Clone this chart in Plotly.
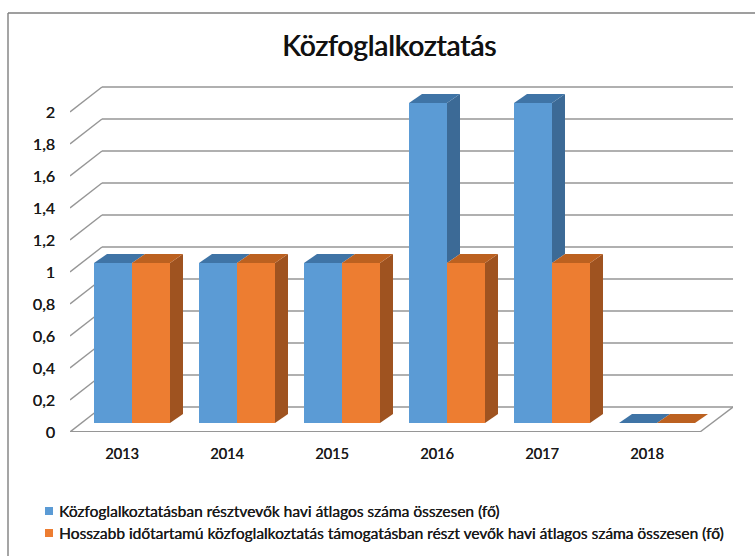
import plotly.graph_objects as go

# ---- data ----
years = ["2013", "2014", "2015", "2016", "2017", "2018"]
kozfog = [1, 1, 1, 2, 2, 0]
hosszabb = [1, 1, 1, 1, 1, 0]
y_ticks = [0, 0.2, 0.4, 0.6, 0.8, 1, 1.2, 1.4, 1.6, 1.8, 2]
y_labels = ["0", "0,2", "0,4", "0,6", "0,8", "1", "1,2", "1,4", "1,6", "1,8", "2"]
title_text = "Közfoglalkoztatás"
legend_names = [
    "Közfoglalkoztatásban résztvevők havi átlagos száma összesen (fő)",
    "Hosszabb időtartamú közfoglalkoztatás támogatásban részt vevők havi átlagos száma összesen (fő)",
]

# ---- layout geometry (pixels) ----
W, H = 755, 556
L, R, B = 70, 733, 432      # plot area
PX_PER_CAT = 105.0
PX_PER_VAL = 160.0
X0_PX = 122.0               # pixel of first category label
FONT = "Lato"
INK = "#1a1a1a"
SHADOW = "0.3px 0 0 #1a1a1a"
BLUE, ORANGE = "#5B9BD5", "#ED7D31"
BLUE_TOP, ORANGE_TOP = "#3F74A6", "#BC6120"
BLUE_SIDE, ORANGE_SIDE = "#3C6A96", "#9F5320"
GRID = "#969696"

dx_wall = 32 / PX_PER_CAT   # floor depth
dy_wall = 25 / PX_PER_VAL
dx_bar = 13 / PX_PER_CAT    # bar depth
dy_bar = 9 / PX_PER_VAL
base = 9 / PX_PER_VAL       # bars stand in the middle of the floor
bar_w = 38 / PX_PER_CAT
off_blue = -28 / PX_PER_CAT
off_orange = off_blue + bar_w

x_min = (L - X0_PX) / PX_PER_CAT
x_front_end = (700 - X0_PX) / PX_PER_CAT
x_max = (R - X0_PX) / PX_PER_CAT
xs = list(range(len(years)))


def px(x):
    return (x - L) / (R - L)


def py(y):
    return (B - y) / B


fig = go.Figure()

# front faces
fig.add_trace(go.Bar(x=xs, y=kozfog, base=base, width=bar_w, offset=off_blue,
                     marker=dict(color=BLUE, line_width=0), name=legend_names[0],
                     showlegend=False, hoverinfo="skip"))
fig.add_trace(go.Bar(x=xs, y=hosszabb, base=base, width=bar_w, offset=off_orange,
                     marker=dict(color=ORANGE, line_width=0), name=legend_names[1],
                     showlegend=False, hoverinfo="skip"))


def poly(xv, yv, color):
    fig.add_trace(go.Scatter(x=xv, y=yv, mode="lines", fill="toself", fillcolor=color,
                             line=dict(width=0, color=color), showlegend=False,
                             hoverinfo="skip"))


# depth faces
for i in xs:
    blue_l = i + off_blue
    mid = blue_l + bar_w
    right = mid + bar_w
    vb, vo = kozfog[i] + base, hosszabb[i] + base
    low = min(vb, vo)
    # side of blue, visible only above the orange column
    poly([mid, mid + dx_bar, mid + dx_bar, mid, mid],
         [vb, vb + dy_bar, low + dy_bar, low, vb], BLUE_SIDE)
    # top of blue
    poly([blue_l, blue_l + dx_bar, mid + dx_bar, mid, blue_l],
         [vb, vb + dy_bar, vb + dy_bar, vb, vb], BLUE_TOP)
    # side of orange
    poly([right, right + dx_bar, right + dx_bar, right, right],
         [vo, vo + dy_bar, base + dy_bar, base, vo], ORANGE_SIDE)
    # top of orange
    poly([mid, mid + dx_bar, right + dx_bar, right, mid],
         [vo, vo + dy_bar, vo + dy_bar, vo, vo], ORANGE_TOP)

# grid behind everything
shapes = []
line = dict(color=GRID, width=1.4)
for v in y_ticks:
    shapes.append(dict(type="line", xref="x", yref="y", layer="below", line=line,
                       x0=x_min, y0=v, x1=x_min + dx_wall, y1=v + dy_wall))
    shapes.append(dict(type="line", xref="x", yref="y", layer="below", line=line,
                       x0=x_min + dx_wall, y0=v + dy_wall, x1=x_max, y1=v + dy_wall))
shapes.append(dict(type="line", xref="x", yref="y", layer="below",
                   line=dict(color=GRID, width=2.2),
                   x0=x_min, y0=0, x1=x_front_end, y1=0))
shapes.append(dict(type="line", xref="x", yref="y", layer="below", line=line,
                   x0=x_front_end, y0=0, x1=x_max, y1=dy_wall))
# frame: top and left edges are the only ones inside the picture
frame = dict(color="#7f7f7f", width=1.4)
shapes.append(dict(type="line", xref="paper", yref="paper", layer="below", line=frame,
                   x0=px(8), x1=px(755), y0=py(13), y1=py(13)))
shapes.append(dict(type="line", xref="paper", yref="paper", layer="below", line=frame,
                   x0=px(8), x1=px(8), y0=py(13), y1=py(556)))
# legend keys
for yk, col in zip((511, 533), (BLUE, ORANGE)):
    shapes.append(dict(type="rect", xref="paper", yref="paper", layer="above",
                       x0=px(45), x1=px(53), y0=py(yk - 4), y1=py(yk + 4),
                       line_width=0, fillcolor=col))

annotations = [
    dict(text=title_text, xref="paper", yref="paper", x=px(388.5), y=py(45),
         xanchor="center", yanchor="middle", showarrow=False,
         font=dict(family=FONT, size=28, color="#111111", shadow="0.8px 0 0 #111111")),
    dict(text=legend_names[0], xref="paper", yref="paper", x=px(56.5), y=py(511),
         xanchor="left", yanchor="middle", showarrow=False,
         font=dict(family=FONT, size=15.5, color=INK, shadow=SHADOW)),
    dict(text=legend_names[1], xref="paper", yref="paper", x=px(56.5), y=py(533),
         xanchor="left", yanchor="middle", showarrow=False,
         font=dict(family=FONT, size=15.5, color=INK, shadow=SHADOW)),
]

fig.update_layout(
    width=W, height=H, autosize=False,
    margin=dict(l=L, r=W - R, t=0, b=H - B, pad=0),
    paper_bgcolor="white", plot_bgcolor="rgba(0,0,0,0)",
    showlegend=False, barmode="overlay",
    shapes=shapes, annotations=annotations,
    xaxis=dict(range=[x_min, x_max], tickmode="array", tickvals=xs, ticktext=years,
               showgrid=False, zeroline=False, showline=False, ticks="",
               ticklabelstandoff=11,
               tickfont=dict(family=FONT, size=14.5, color=INK, shadow=SHADOW)),
    yaxis=dict(range=[0, B / PX_PER_VAL], tickmode="array", tickvals=y_ticks, ticktext=y_labels,
               showgrid=False, zeroline=False, showline=False, ticks="",
               ticklabelstandoff=14,
               tickfont=dict(family=FONT, size=16, color=INK, shadow=SHADOW)),
)
fig.write_html("out.html", config={"displayModeBar": False},
               post_script="document.body.style.margin='0';")
